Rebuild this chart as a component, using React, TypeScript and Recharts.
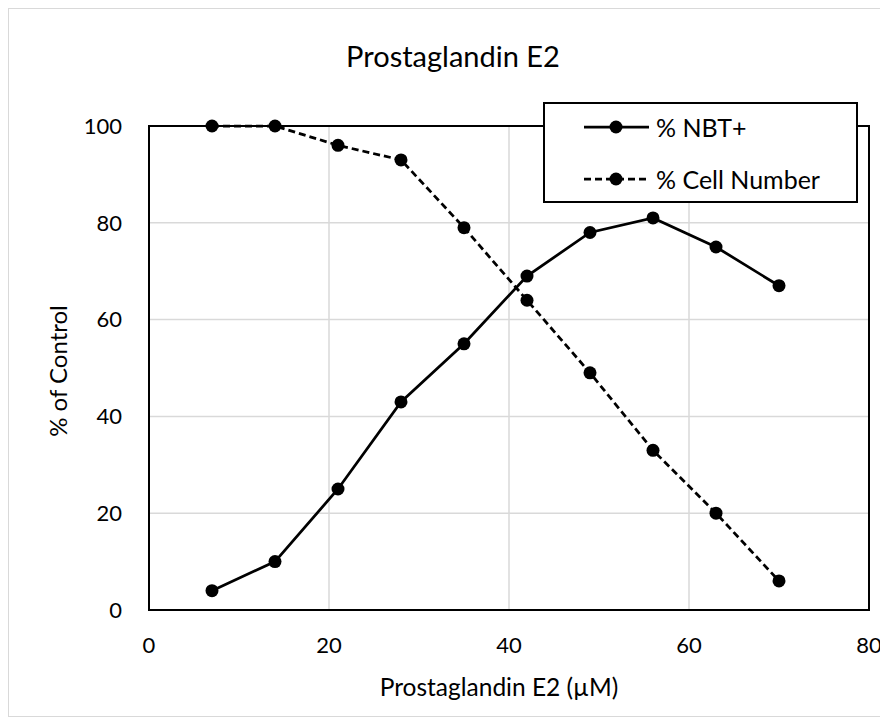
import React from 'react'
import { CartesianGrid, Line, LineChart, ReferenceArea, XAxis, YAxis } from 'recharts'

const concentration = [7, 14, 21, 28, 35, 42, 49, 56, 63, 70]
const nbtPositive = [4, 10, 25, 43, 55, 69, 78, 81, 75, 67]
const cellNumber = [100, 100, 96, 93, 79, 64, 49, 33, 20, 6]
const xTicks = [0, 20, 40, 60, 80]
const yTicks = [0, 20, 40, 60, 80, 100]

const data = concentration.map((x, i) => ({ x, nbt: nbtPositive[i], cells: cellNumber[i] }))

const font = 'Lato, "Open Sans", sans-serif'

function LegendBox() {
  const rows = [
    { label: '% NBT+', dash: undefined },
    { label: '% Cell Number', dash: '7 4' },
  ]
  return (
    <div
      style={{
        position: 'absolute',
        left: 534,
        top: 93,
        width: 315,
        height: 101,
        border: '2px solid #000',
        background: '#fff',
        boxSizing: 'border-box',
      }}
    >
      {rows.map((r, i) => (
        <div key={r.label} style={{ position: 'absolute', left: 38, top: 23 + i * 52 - 14, height: 28, display: 'flex', alignItems: 'center' }}>
          <svg width={68} height={16}>
            <line x1={1} y1={8} x2={66} y2={8} stroke="#000" strokeWidth={2.75} strokeDasharray={r.dash} />
            <circle cx={33} cy={8} r={6.5} fill="#000" />
          </svg>
          <span style={{ fontFamily: font, fontSize: 25, color: '#000', marginLeft: 5, whiteSpace: 'nowrap' }}>{r.label}</span>
        </div>
      ))}
    </div>
  )
}

export default function App() {
  return (
    <div style={{ position: 'relative', width: 880, height: 709, border: '1px solid #d9d9d9', boxSizing: 'border-box', background: '#fff', fontFamily: font }}>
      <div style={{ position: 'absolute', left: 444, top: 29, transform: 'translateX(-50%)', whiteSpace: 'nowrap', fontSize: 29, color: '#000' }}>
        Prostaglandin E2
      </div>
      <div style={{ position: 'absolute', left: 490, top: 663, transform: 'translateX(-50%)', whiteSpace: 'nowrap', fontSize: 24.5, color: '#000' }}>
        Prostaglandin E2 (µM)
      </div>
      <div style={{ position: 'absolute', left: 48, top: 362, width: 0, height: 0 }}>
        <div style={{ position: 'absolute', transform: 'translate(-50%, -50%) rotate(-90deg)', whiteSpace: 'nowrap', fontSize: 24, color: '#000' }}>
          % of Control
        </div>
      </div>
      <LineChart
        width={878}
        height={707}
        data={data}
        margin={{ top: 117, right: 18, bottom: 76, left: 60 }}
        style={{ position: 'absolute', left: 0, top: 0 }}
      >
        <CartesianGrid stroke="#d9d9d9" strokeWidth={1.5} vertical horizontal />
        <XAxis
          dataKey="x"
          type="number"
          domain={[0, 80]}
          ticks={xTicks}
          height={30}
          tickLine={false}
          tickSize={0}
          tickMargin={27}
          axisLine={{ stroke: '#000', strokeWidth: 2 }}
          tick={{ fontSize: 22, fill: '#000', fontFamily: font }}
        />
        <YAxis
          type="number"
          domain={[0, 100]}
          ticks={yTicks}
          width={80}
          tickLine={false}
          tickSize={0}
          tickMargin={27}
          axisLine={{ stroke: '#000', strokeWidth: 2 }}
          tick={{ fontSize: 22, fill: '#000', fontFamily: font }}
        />
        <ReferenceArea x1={0} x2={80} y1={0} y2={100} fill="none" stroke="#000" strokeWidth={2} ifOverflow="visible" />
        <Line
          dataKey="nbt"
          name="% NBT+"
          stroke="#000"
          strokeWidth={2.75}
          dot={{ r: 6.5, fill: '#000', stroke: '#000', strokeWidth: 0 }}
          isAnimationActive={false}
        />
        <Line
          dataKey="cells"
          name="% Cell Number"
          stroke="#000"
          strokeWidth={2.75}
          strokeDasharray="7 4"
          dot={{ r: 6.5, fill: '#000', stroke: '#000', strokeWidth: 0, strokeDasharray: '' }}
          isAnimationActive={false}
        />
      </LineChart>
      <LegendBox />
    </div>
  )
}
